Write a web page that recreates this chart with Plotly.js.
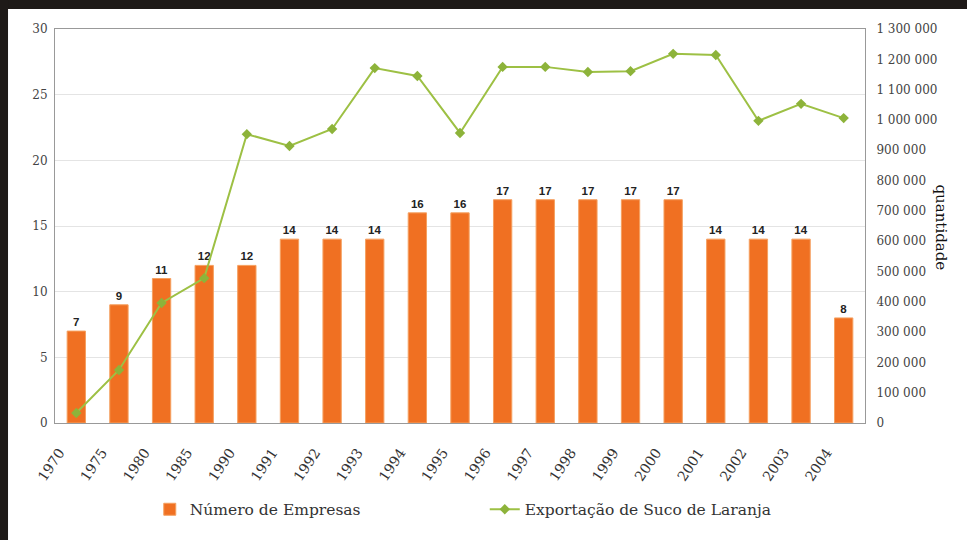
<!DOCTYPE html>
<html>
<head>
<meta charset="utf-8">
<script src="https://cdn.plot.ly/plotly-3.0.1.min.js"></script>
<style>html,body{margin:0;padding:0;background:#fff;}#chart{width:967px;height:540px;}</style>
</head>
<body>
<div id="chart"></div>
<script>
const years = ['1970','1975','1980','1985','1990','1991','1992','1993','1994','1995','1996','1997','1998','1999','2000','2001','2002','2003','2004'];
const empresas = [7,9,11,12,12,14,14,14,16,16,17,17,17,17,17,14,14,14,8];
const exportacao = [33000,175000,396000,478000,953000,914000,970000,1171000,1145000,957000,1175000,1175000,1158000,1161000,1218000,1214000,997000,1053000,1006000];
const leftTicks = [0,5,10,15,20,25,30];
const rightTicks = [0,100000,200000,300000,400000,500000,600000,700000,800000,900000,1000000,1100000,1200000,1300000];

const serif = 'DejaVu Serif, serif';

const traces = [
  {
    type: 'bar', x: years, y: empresas, name: 'Número de Empresas',
    marker: {color: '#F07022', line: {color: '#F5A060', width: 1}},
    width: 0.43,
    text: empresas.map(String), textposition: 'outside',
    textfont: {family: 'Liberation Sans, Arial, sans-serif', size: 11.5, color: '#222', weight: 'bold'},
    cliponaxis: false
  },
  {
    type: 'scatter', mode: 'lines+markers', x: years, y: exportacao, yaxis: 'y2',
    name: 'Exportação de Suco de Laranja',
    line: {color: '#9DC044', width: 2},
    marker: {symbol: 'diamond', size: 8, color: '#8DB33A'}
  }
];

const layout = {
  width: 967, height: 540,
  margin: {l: 55, r: 102, t: 29, b: 117},
  paper_bgcolor: '#ffffff', plot_bgcolor: '#ffffff',
  separators: ', ',
  showlegend: true,
  xaxis: {
    type: 'category', range: [-0.5, 18.5], tickangle: -56,
    tickfont: {family: serif, size: 14, color: '#333'},
    showline: true, linecolor: '#999', linewidth: 1, mirror: true,
    ticks: '', showgrid: false, ticklabelstandoff: 15, ticklabelshift: -17
  },
  yaxis: {
    range: [0, 30], tickvals: leftTicks,
    tickfont: {family: serif, size: 12, color: '#444'},
    showline: true, linecolor: '#999', linewidth: 1,
    gridcolor: '#e4e4e4', zeroline: false, ticks: '', ticklabelstandoff: 4
  },
  yaxis2: {
    overlaying: 'y', side: 'right', range: [0, 1300000], tickvals: rightTicks,
    tickformat: ',d',
    tickfont: {family: serif, size: 12, color: '#444'},
    showline: true, linecolor: '#999', linewidth: 1, showgrid: false, zeroline: false,
    ticks: '', ticklabelstandoff: 8
  },
  legend: {
    orientation: 'h', x: 0.117, xanchor: 'left', y: -0.22, yanchor: 'middle',
    font: {family: serif, size: 15.5, color: '#333'},
    entrywidth: 290, entrywidthmode: 'pixels', bgcolor: 'rgba(0,0,0,0)'
  },
  annotations: [
    {text: 'quantidade', xref: 'paper', yref: 'paper', x: 1.108, y: 0.495, textangle: 90,
     showarrow: false, font: {family: serif, size: 15, color: '#111'}}
  ],
  shapes: [
    {type: 'rect', xref: 'paper', yref: 'paper', x0: -0.07, x1: 1.15, y0: 1.0508, y1: 1.08,
     fillcolor: '#1e1a18', line: {width: 0}},
    {type: 'rect', xref: 'paper', yref: 'paper', x0: -0.07, x1: -0.058, y0: -0.3, y1: 1.08,
     fillcolor: '#1e1a18', line: {width: 0}}
  ]
};

Plotly.newPlot('chart', traces, layout, {displayModeBar: false, staticPlot: true});
</script>
</body>
</html>
